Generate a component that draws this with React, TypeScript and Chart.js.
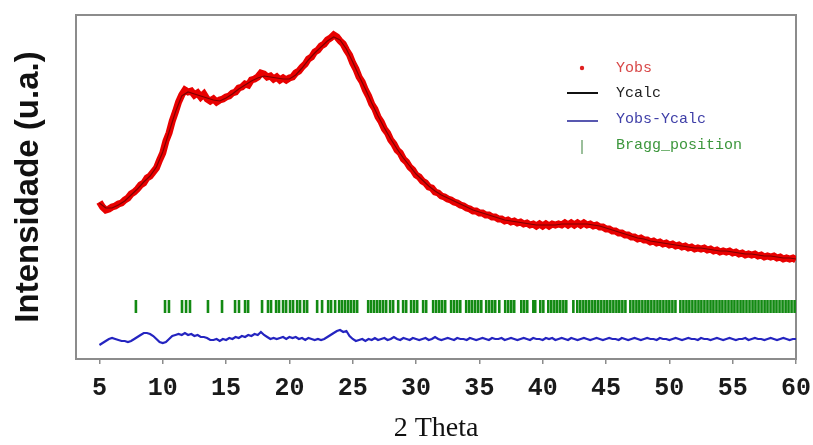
import React, { useEffect, useRef } from 'react';
import { Chart, registerables } from 'chart.js';
Chart.register(...registerables);

// 2θ scan grid
const X_START = 5;
const OBS_STEP = 0.25;
const CALC_STEP = 0.5;

const xTicks = [5, 10, 15, 20, 25, 30, 35, 40, 45, 50, 55, 60];
const seriesNames = ['Yobs', 'Ycalc', 'Yobs-Ycalc', 'Bragg_position'];

// observed intensity (a.u.), 5.00 .. 60.00 every 0.25°
const yObs = [
  1570, 1520, 1490, 1500, 1520, 1530, 1550, 1560, 1590, 1610,
  1650, 1670, 1700, 1740, 1760, 1810, 1830, 1870, 1910, 1990,
  2060, 2180, 2260, 2380, 2470, 2570, 2640, 2690, 2670, 2680,
  2640, 2660, 2620, 2650, 2600, 2580, 2600, 2570, 2590, 2600,
  2620, 2630, 2660, 2670, 2710, 2720, 2750, 2740, 2790, 2800,
  2820, 2860, 2850, 2820, 2830, 2800, 2820, 2790, 2810, 2790,
  2810, 2820, 2860, 2880, 2920, 2950, 3000, 3020, 3070, 3090,
  3130, 3150, 3190, 3210, 3240, 3220, 3180, 3150, 3090, 3040,
  2960, 2900, 2820, 2770, 2690, 2630, 2550, 2500, 2420, 2370,
  2300, 2260, 2190, 2150, 2090, 2060, 2000, 1970, 1920, 1890,
  1840, 1820, 1780, 1760, 1720, 1710, 1670, 1660, 1630, 1620,
  1600, 1590, 1570, 1560, 1540, 1530, 1510, 1500, 1480, 1480,
  1460, 1460, 1440, 1440, 1420, 1420, 1400, 1400, 1380, 1390,
  1370, 1380, 1360, 1370, 1350, 1360, 1340, 1350, 1330, 1350,
  1330, 1350, 1330, 1350, 1340, 1350, 1340, 1360, 1340, 1360,
  1340, 1360, 1340, 1360, 1340, 1350, 1330, 1340, 1320, 1320,
  1300, 1300, 1280, 1280, 1260, 1260, 1240, 1240, 1220, 1220,
  1200, 1210, 1190, 1190, 1170, 1180, 1160, 1170, 1150, 1160,
  1140, 1150, 1130, 1140, 1120, 1130, 1110, 1120, 1100, 1110,
  1100, 1110, 1090, 1100, 1080, 1090, 1070, 1080, 1070, 1080,
  1060, 1070, 1050, 1060, 1040, 1050, 1040, 1050, 1030, 1040,
  1020, 1030, 1020, 1030, 1010, 1020, 1000, 1010, 1000, 1010,
  990,
];

// calculated intensity, 5.0 .. 60.0 every 0.5°
const yCalc = [
  1560, 1510, 1510, 1540, 1580, 1640, 1700, 1770, 1830, 1920,
  2070, 2270, 2470, 2630, 2670, 2650, 2630, 2610, 2590, 2580,
  2610, 2650, 2700, 2740, 2780, 2810, 2830, 2820, 2810, 2800,
  2800, 2840, 2910, 2990, 3060, 3120, 3180, 3220, 3190, 3100,
  2970, 2830, 2700, 2560, 2430, 2310, 2200, 2100, 2010, 1930,
  1850, 1790, 1730, 1680, 1640, 1610, 1580, 1550, 1520, 1490,
  1470, 1450, 1430, 1410, 1390, 1380, 1370, 1360, 1350, 1340,
  1340, 1340, 1340, 1350, 1350, 1350, 1350, 1350, 1340, 1330,
  1310, 1290, 1270, 1250, 1230, 1210, 1200, 1180, 1170, 1160,
  1150, 1140, 1130, 1120, 1110, 1110, 1100, 1090, 1080, 1080,
  1070, 1060, 1050, 1050, 1040, 1030, 1030, 1020, 1010, 1010,
  1000,
];

// difference curve (offset), 5.00 .. 60.00 every 0.25°
const yDiff = [
  140, 160, 180, 200, 210, 200, 190, 180, 180, 170,
  180, 200, 220, 240, 260, 260, 250, 230, 200, 170,
  160, 170, 200, 230, 240, 250, 240, 260, 240, 250,
  230, 240, 220, 220, 210, 190, 190, 200, 180, 200,
  190, 210, 200, 220, 210, 230, 220, 240, 230, 250,
  240, 270, 240, 220, 200, 210, 200, 210, 220, 200,
  220, 210, 220, 200, 210, 190, 210, 200, 190, 200,
  190, 200, 220, 240, 260, 280, 290, 270, 280, 230,
  200, 180, 190, 200, 180, 200, 190, 210, 190,
  200, 210, 190, 200, 220, 200, 190, 210, 200, 190,
  210, 200, 190, 200, 210, 190, 200, 220, 200, 190,
  200, 210, 200, 190, 210, 200, 200, 190, 210, 200,
  190, 200, 210, 200, 190, 210, 200, 200, 210, 190,
  200, 210, 200, 190, 200, 210, 200, 190, 210, 200,
  200, 190, 210, 200, 210, 190, 200, 210, 200, 190,
  210, 200, 190, 200, 210, 200, 190, 200, 210, 200,
  190, 200, 210, 200, 200, 190, 210, 200, 190, 200,
  210, 200, 190, 200, 210, 200, 200, 190, 210, 200,
  200, 190, 200, 210, 200, 190, 200, 210, 200, 200,
  190, 210, 200, 200, 190, 200, 210, 200, 190, 200,
  210, 200, 190, 200, 200, 210, 190, 200, 210, 200,
  200, 190, 200, 210, 200, 190, 200, 210, 200, 190,
  200, 200,
];

// Bragg reflection positions (2θ)
const braggPositions = [
  7.88, 10.18, 10.49, 11.52, 11.84, 12.15, 13.57, 14.68, 15.71, 16.02,
  16.5, 16.74, 17.84, 18.31, 18.55, 18.95, 19.18, 19.5, 19.74, 20.05,
  20.29, 20.61, 20.84, 21.16, 21.4, 22.19, 22.58, 23.06, 23.29, 23.61,
  23.93, 24.16, 24.4, 24.64, 24.87, 25.11, 25.35, 26.22, 26.45, 26.69,
  26.93, 27.16, 27.4, 27.64, 27.95, 28.19, 28.59, 28.98, 29.22, 29.61,
  29.85, 30.09, 30.56, 30.8, 31.35, 31.59, 31.83, 32.06, 32.3, 32.77,
  33.01, 33.25, 33.49, 33.96, 34.2, 34.43, 34.67, 34.91, 35.15, 35.54,
  35.78, 36.02, 36.25, 36.57, 37.04, 37.28, 37.52, 37.75, 38.31, 38.54,
  38.78, 39.26, 39.41, 39.81, 40.05, 40.44, 40.68, 40.92, 41.15, 41.39,
  41.63, 41.86, 42.42, 42.73, 42.97, 43.21, 43.44, 43.68, 43.92, 44.15,
  44.39, 44.63, 44.87, 45.1, 45.34, 45.58, 45.82, 46.05, 46.29, 46.53,
  46.92, 47.16, 47.4, 47.63, 47.87, 48.11, 48.34, 48.58, 48.82, 49.06,
  49.29, 49.53, 49.77, 50.0, 50.24, 50.48, 50.87, 51.11, 51.35, 51.58,
  51.82, 52.06, 52.3, 52.53, 52.77, 53.01, 53.25, 53.48, 53.72, 53.96,
  54.19, 54.43, 54.67, 54.91, 55.14, 55.38, 55.62, 55.85, 56.09, 56.33,
  56.57, 56.8, 57.04, 57.28, 57.52, 57.75, 57.99, 58.23, 58.46, 58.7,
  58.94, 59.18, 59.41, 59.65, 59.89,
];
const BRAGG_LEVEL = 525;

const X_MIN = 3.15;
const X_MAX = 60;
const Y_MIN = 0;
const Y_MAX = 3440;

export default function App() {
  const ref = useRef<HTMLCanvasElement>(null);

  useEffect(() => {
    if (!ref.current) return;

    const framePlugin = {
      id: 'frame',
      beforeDatasetsDraw(chart: any) {
        const { ctx, chartArea } = chart;
        ctx.save();
        ctx.strokeStyle = '#8c8c8c';
        ctx.lineWidth = 2;
        ctx.strokeRect(chartArea.left, chartArea.top, chartArea.right - chartArea.left, chartArea.bottom - chartArea.top);
        ctx.restore();
      },
    };

    const legendPlugin = {
      id: 'insetLegend',
      afterDraw(chart: any) {
        const { ctx, chartArea } = chart;
        const lx0 = chartArea.left + 491;
        const lx1 = chartArea.left + 522;
        const lxc = chartArea.left + 506;
        const tx = chartArea.left + 540;
        const rows = [chartArea.top + 53, chartArea.top + 78, chartArea.top + 104, chartArea.top + 130];
        const textColors = ['#d84848', '#222222', '#4040a8', '#3c963c'];
        ctx.save();
        // Yobs marker
        ctx.fillStyle = '#e02020';
        ctx.beginPath();
        ctx.arc(lxc, rows[0], 2.2, 0, Math.PI * 2);
        ctx.fill();
        // Ycalc line
        ctx.strokeStyle = '#111111';
        ctx.lineWidth = 2;
        ctx.beginPath();
        ctx.moveTo(lx0, rows[1]);
        ctx.lineTo(lx1, rows[1]);
        ctx.stroke();
        // diff line
        ctx.strokeStyle = '#5858b0';
        ctx.beginPath();
        ctx.moveTo(lx0, rows[2] + 2);
        ctx.lineTo(lx1, rows[2] + 2);
        ctx.stroke();
        // bragg tick
        ctx.strokeStyle = '#7aaa7a';
        ctx.lineWidth = 1.5;
        ctx.beginPath();
        ctx.moveTo(lxc, rows[3] - 5);
        ctx.lineTo(lxc, rows[3] + 9);
        ctx.stroke();
        ctx.font = '15px "Liberation Mono", monospace';
        ctx.textBaseline = 'middle';
        ctx.textAlign = 'left';
        seriesNames.forEach((name, i) => {
          ctx.fillStyle = textColors[i];
          ctx.fillText(name, tx, rows[i]);
        });
        ctx.restore();
      },
    };

    const chart = new Chart(ref.current, {
      type: 'scatter',
      data: {
        datasets: [
          {
            label: seriesNames[0],
            data: yObs.map((y, i) => ({ x: X_START + i * OBS_STEP, y })),
            showLine: true,
            borderColor: '#e80000',
            backgroundColor: '#e80000',
            borderWidth: 7,
            pointRadius: 0,
            order: 2,
          },
          {
            label: seriesNames[1],
            data: yCalc.map((y, i) => ({ x: X_START + i * CALC_STEP, y })),
            showLine: true,
            borderColor: 'rgba(40,0,0,0.55)',
            borderWidth: 1.2,
            pointRadius: 0,
            order: 1,
          },
          {
            label: seriesNames[2],
            data: yDiff.map((y, i) => ({ x: X_START + i * OBS_STEP, y })),
            showLine: true,
            borderColor: '#2424c0',
            borderWidth: 2.2,
            pointRadius: 0,
            order: 3,
          },
          {
            label: seriesNames[3],
            data: braggPositions.map((x) => ({ x, y: BRAGG_LEVEL })),
            showLine: false,
            pointStyle: 'line',
            rotation: 90,
            pointRadius: 6.5,
            borderWidth: 2.6,
            borderColor: '#138a13',
            backgroundColor: '#138a13',
            order: 4,
          },
        ],
      },
      options: {
        animation: false,
        responsive: true,
        maintainAspectRatio: false,
        layout: { padding: { top: 15, right: 17, left: 0, bottom: 0 } },
        plugins: {
          legend: { display: false },
          tooltip: { enabled: false },
        },
        scales: {
          x: {
            type: 'linear',
            min: X_MIN,
            max: X_MAX,
            afterBuildTicks: (s: any) => {
              s.ticks = xTicks.map((v) => ({ value: v }));
            },
            afterFit: (s: any) => {
              s.height = 86;
              s.paddingRight = 0;
              s.paddingLeft = 0;
            },
            border: { display: false },
            grid: {
              display: true,
              drawOnChartArea: false,
              drawTicks: true,
              tickLength: 5,
              color: '#8c8c8c',
              lineWidth: 1.5,
            },
            ticks: {
              color: '#1a1a1a',
              font: { family: '"Liberation Mono", monospace', size: 25, weight: 'bold' },
              padding: 10,
              maxRotation: 0,
              autoSkip: false,
            },
            title: {
              display: true,
              text: '2 Theta',
              color: '#111111',
              font: { family: '"Liberation Serif", serif', size: 28, weight: 'normal' },
              padding: { top: 0, bottom: 0 },
            },
          },
          y: {
            type: 'linear',
            min: Y_MIN,
            max: Y_MAX,
            afterFit: (s: any) => {
              s.width = 76;
              s.paddingTop = 0;
              s.paddingBottom = 0;
            },
            border: { display: false },
            grid: { display: false },
            ticks: { display: false },
            title: {
              display: true,
              text: 'Intensidade (u.a.)',
              color: '#111111',
              font: { family: '"Liberation Sans", Arial, sans-serif', size: 33, weight: 'bold' },
              padding: { top: 9, bottom: 0 },
            },
          },
        },
      },
      plugins: [framePlugin, legendPlugin],
    } as any);

    return () => chart.destroy();
  }, []);

  return (
    <div style={{ position: 'fixed', left: 0, top: 0, width: 813, height: 445 }}>
      <canvas ref={ref} />
    </div>
  );
}
